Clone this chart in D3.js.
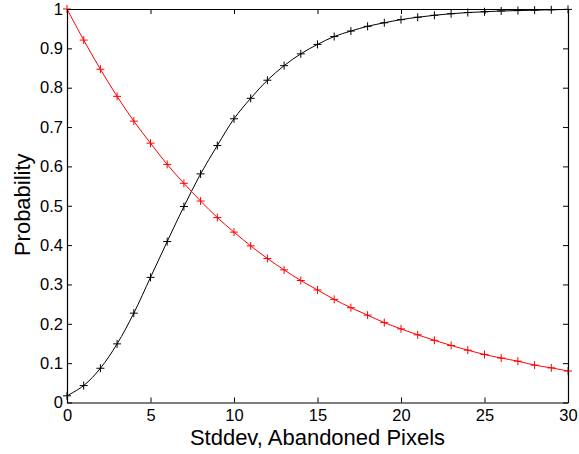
<!DOCTYPE html>
<html>
<head>
<meta charset="utf-8">
<script src="https://cdn.jsdelivr.net/npm/d3@7"></script>
<style>
  html, body { margin: 0; padding: 0; background: #fff; }
  svg { display: block; font-family: "Liberation Sans", Arial, Helvetica, sans-serif; }
</style>
</head>
<body>
<svg id="chart" width="579" height="454"></svg>
<script>
// Standard deviation of abandoned pixels (x axis)
const stddev = d3.range(0, 31);

// Rising probability curve (black)
const probRising = [
  0.017, 0.043, 0.087, 0.149, 0.227, 0.318, 0.409, 0.498, 0.581, 0.653,
  0.721, 0.773, 0.819, 0.856, 0.886, 0.910, 0.930, 0.944, 0.956, 0.965,
  0.973, 0.979, 0.984, 0.988, 0.991, 0.993, 0.995, 0.996, 0.997, 0.998,
  0.999
];

// Falling probability curve (red)
const probFalling = [
  1.000, 0.921, 0.847, 0.778, 0.715, 0.659, 0.605, 0.557, 0.512, 0.470,
  0.433, 0.398, 0.366, 0.337, 0.310, 0.286, 0.262, 0.241, 0.222, 0.203,
  0.187, 0.172, 0.158, 0.145, 0.133, 0.122, 0.113, 0.105, 0.095, 0.088,
  0.080
];

const xTicks = [0, 5, 10, 15, 20, 25, 30];
const yTicks = [0, 0.1, 0.2, 0.3, 0.4, 0.5, 0.6, 0.7, 0.8, 0.9, 1];

const xLabel = "Stddev, Abandoned Pixels";
const yLabel = "Probability";

const margin = { left: 67, right: 11, top: 9, bottom: 51.5 };
const W = 579, H = 454;
const svg = d3.select("#chart");

const x = d3.scaleLinear().domain([0, 30]).range([margin.left, W - margin.right]);
const y = d3.scaleLinear().domain([0, 1]).range([H - margin.bottom, margin.top]);

const tickLen = 5;
const tickFmt = d => d3.format("~g")(d);

// Curves
const line = d3.line()
  .x((d, i) => x(stddev[i]))
  .y(d => y(d))
  .curve(d3.curveCatmullRom.alpha(0.5));

function drawSeries(values, color) {
  svg.append("path")
    .datum(values)
    .attr("d", line)
    .attr("fill", "none")
    .attr("stroke", color)
    .attr("stroke-width", 1);
  const m = 4;
  svg.append("g")
    .selectAll("path")
    .data(values)
    .join("path")
    .attr("d", (d, i) => {
      const cx = x(stddev[i]), cy = y(d);
      return `M${cx - m},${cy}H${cx + m}M${cx},${cy - m}V${cy + m}`;
    })
    .attr("stroke", color)
    .attr("stroke-width", 1)
    .attr("fill", "none");
}

drawSeries(probRising, "#000");
drawSeries(probFalling, "#ff0000");

// Axes with inward ticks on all four sides
const axisBottom = d3.axisBottom(x).tickValues(xTicks).tickSizeInner(-tickLen).tickSizeOuter(0).tickPadding(7).tickFormat(tickFmt);
const axisTop = d3.axisTop(x).tickValues(xTicks).tickSizeInner(-tickLen).tickSizeOuter(0).tickFormat("");
const axisLeft = d3.axisLeft(y).tickValues(yTicks).tickSizeInner(-tickLen).tickSizeOuter(0).tickPadding(4).tickFormat(tickFmt);
const axisRight = d3.axisRight(y).tickValues(yTicks).tickSizeInner(-tickLen).tickSizeOuter(0).tickFormat("");

function styleAxis(g) {
  g.selectAll(".domain").attr("stroke", "#000").attr("stroke-width", 1.2);
  g.selectAll(".tick line").attr("stroke", "#000").attr("stroke-width", 1);
  g.selectAll(".tick text").attr("fill", "#000").style("font-size", "16.5px")
    .style("font-family", "'Liberation Sans', Arial, Helvetica, sans-serif");
}

svg.append("g").attr("transform", `translate(0,${y(0)})`).call(axisBottom).call(styleAxis);
svg.append("g").attr("transform", `translate(0,${y(1)})`).call(axisTop).call(styleAxis);
svg.append("g").attr("transform", `translate(${x(0)},0)`).call(axisLeft).call(styleAxis);
svg.append("g").attr("transform", `translate(${x(30)},0)`).call(axisRight).call(styleAxis);

// Axis titles
svg.append("text")
  .attr("x", (x(0) + x(30)) / 2)
  .attr("y", 445)
  .attr("text-anchor", "middle")
  .style("font-size", "22px")
  .attr("fill", "#000")
  .text(xLabel);

svg.append("text")
  .attr("transform", `translate(30,${(y(0) + y(1)) / 2 - 1}) rotate(-90)`)
  .attr("text-anchor", "middle")
  .style("font-size", "22px")
  .attr("fill", "#000")
  .text(yLabel);
</script>
</body>
</html>
